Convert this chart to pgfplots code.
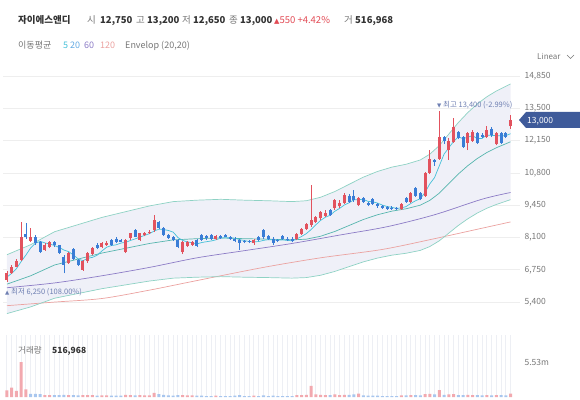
\documentclass[border=0pt]{standalone}
\usepackage{pgfplots}
\usepackage{pgfplotstable}
\pgfplotsset{compat=1.18}
\usepackage{fontspec}
\setmainfont{Noto Sans CJK KR}
\newfontfamily\dejavu{DejaVu Sans}
\definecolor{cup}{HTML}{E2525E}
\definecolor{cdn}{HTML}{3A7DD6}
\definecolor{vupc}{HTML}{F2A9AF}
\definecolor{vdnc}{HTML}{A8C6EE}
\definecolor{ma5}{HTML}{45C0D8}
\definecolor{ma20}{HTML}{55B5AE}
\definecolor{leg20}{HTML}{62A9E3}
\definecolor{ma60}{HTML}{8C7CC6}
\definecolor{ma120}{HTML}{EBA2A0}
\definecolor{env}{HTML}{8ED2C4}
\definecolor{envfill}{HTML}{EFF0F8}
\definecolor{txt}{HTML}{333333}
\definecolor{gtxt}{HTML}{777777}
\definecolor{tagc}{HTML}{3F5B9A}
\definecolor{mk}{HTML}{6E7FB2}
\definecolor{gridc}{HTML}{EEEEEE}
\definecolor{stripe}{HTML}{EDEFF4}
\definecolor{redt}{HTML}{E24B55}

\pgfplotstableread{
i O H L C
0 6320 6700 6250 6620
1 6620 6950 6580 6870
2 6870 7200 6850 7120
3 7160 8750 7100 8120
5 7950 8500 7900 8100
8 7580 7850 7550 7790
9 7700 7950 7650 7900
13 7050 7500 7000 7450
16 6750 7150 6700 7100
17 7100 7500 7050 7450
18 7400 7700 7350 7650
20 7700 7900 7650 7850
21 7800 7950 7750 7880
25 7500 8050 7450 8000
26 8080 8300 8000 8270
28 8000 8300 7950 8280
29 8200 8350 8150 8280
30 8280 8400 8250 8350
31 8400 9050 8350 8830
37 7500 7950 7400 7900
38 7750 7950 7700 7900
39 7800 7950 7750 7900
44 8050 8200 8000 8150
52 7850 8050 7800 8000
61 8050 8300 8000 8250
62 8250 8500 8200 8450
63 8450 8700 8400 8650
64 8620 10300 8550 8830
65 8750 9000 8700 8950
66 8900 9200 8850 9170
67 9000 9250 8950 9130
69 9330 9700 9250 9670
70 9400 9650 9350 9550
71 9540 9950 9500 9880
74 9450 9800 9400 9750
83 9300 9550 9250 9500
85 9600 10000 9550 9950
88 9850 10850 9800 10800
89 10800 11750 10750 11400
91 11400 13400 11350 12300
93 11750 12250 11350 12150
94 12100 13100 12050 12700
97 12050 12500 11750 12450
98 12150 12600 12100 12500
101 12300 12750 12250 12600
103 12000 12500 11950 12450
106 12750 13200 12650 13000
}\upc

\pgfplotstableread{
i O H L C
4 8250 8700 8050 8120
6 8100 8200 7800 7850
7 7900 7950 7450 7500
10 7900 7950 7700 7780
11 7790 7800 7400 7450
12 7300 7350 6600 6950
14 7600 7650 7150 7200
15 7150 7200 6900 6950
19 7780 7850 7600 7650
22 7990 8050 7750 7790
23 8050 8100 7850 7900
24 8000 8050 7900 7920
27 8410 8450 8100 8120
32 8750 8800 8450 8500
33 8500 8550 8150 8200
34 8200 8250 8050 8080
35 8100 8150 7950 8000
36 8000 8050 7650 7700
40 8000 8050 7700 7750
41 8200 8250 7950 8000
42 8150 8200 8000 8070
43 8200 8250 8000 8050
45 8150 8200 8050 8080
46 8200 8250 8100 8120
47 8100 8150 8000 8050
48 8050 8100 7900 7950
49 8000 8050 7580 7850
50 7950 8000 7850 7900
51 7950 8000 7850 7900
53 8100 8150 7950 8000
54 8400 8450 8050 8100
55 8150 8200 8000 8050
56 8050 8100 7800 7850
57 8000 8050 7900 7950
58 8150 8200 8000 8050
59 8050 8100 7950 8000
60 8050 8100 7900 7950
68 9250 9300 9000 9050
72 9850 9900 9550 9600
73 9850 10100 9600 9650
75 9750 9800 9550 9600
76 9550 9600 9400 9450
77 9700 9750 9450 9500
78 9500 9550 9350 9400
79 9400 9450 9300 9330
80 9380 9420 9250 9300
81 9350 9400 9250 9280
82 9320 9380 9230 9270
84 9750 9800 9550 9600
86 10150 10200 9800 9850
87 9950 10000 9650 9700
90 11350 11400 11100 11250
92 12300 12350 12000 12150
95 12500 12550 12200 12250
96 12300 12350 11850 11900
99 12450 12500 12000 12050
100 12400 12450 12250 12300
102 12650 12700 12300 12380
104 12450 12500 12000 12050
105 12450 12500 12250 12300
}\dnc

\pgfplotstableread{
i v
0 6450
1 6600
2 6800
3 7100
4 7370
5 7666
6 7862
7 7938
8 7872
9 7828
10 7764
11 7684
12 7574
13 7506
14 7366
15 7200
16 7130
17 7230
18 7270
19 7360
20 7540
21 7696
22 7764
23 7794
24 7868
25 7898
26 7976
27 8042
28 8118
29 8190
30 8260
31 8372
32 8448
33 8432
34 8392
35 8322
36 8096
37 7976
38 7916
39 7880
40 7830
41 7890
42 7924
43 7954
44 8004
45 8070
46 8094
47 8090
48 8070
49 8010
50 7974
51 7930
52 7920
53 7930
54 7980
55 8010
56 8000
57 7990
58 8000
59 7980
60 7960
61 8040
62 8140
63 8260
64 8426
65 8626
66 8810
67 8946
68 9026
69 9194
70 9314
71 9456
72 9550
73 9670
74 9686
75 9696
76 9610
77 9590
78 9540
79 9456
80 9396
81 9362
82 9316
83 9336
84 9390
85 9520
86 9634
87 9720
88 9980
89 10340
90 10600
91 11090
92 11580
93 11850
94 12110
95 12310
96 12230
97 12290
98 12360
99 12230
100 12240
101 12380
102 12366
103 12356
104 12356
105 12356
106 12436
}\mafive

\pgfplotstableread{
i m u l
0 6150 7380 4920
5 6500 7800 5200
10 6950 8340 5560
15 7200 8640 5760
20 7450 8940 5960
25 7650 9180 6120
30 7850 9420 6280
35 8000 9600 6400
40 8050 9660 6440
45 8080 9696 6464
50 8050 9660 6440
55 8030 9636 6424
60 8000 9600 6400
63 8030 9636 6424
66 8150 9780 6520
69 8350 10020 6680
72 8600 10320 6880
75 8850 10620 7080
78 9050 10860 7240
81 9200 11040 7360
84 9300 11160 7440
87 9450 11340 7560
89 9650 11580 7720
91 9950 11940 7960
93 10350 12420 8280
95 10750 12900 8600
97 11100 13320 8880
99 11400 13680 9120
101 11650 13980 9320
103 11850 14220 9480
106 12100 14520 9680
}\envt

% envelope band outline: upper edge forward, lower edge backward
\pgfplotstableread{
i v
0 7380
5 7800
10 8340
15 8640
20 8940
25 9180
30 9420
35 9600
40 9660
45 9696
50 9660
55 9636
60 9600
63 9636
66 9780
69 10020
72 10320
75 10620
78 10860
81 11040
84 11160
87 11340
89 11580
91 11940
93 12420
95 12900
97 13320
99 13680
101 13980
103 14220
106 14520
106 9680
103 9480
101 9320
99 9120
97 8880
95 8600
93 8280
91 7960
89 7720
87 7560
84 7440
81 7360
78 7240
75 7080
72 6880
69 6680
66 6520
63 6424
60 6400
55 6424
50 6440
45 6464
40 6440
35 6400
30 6280
25 6120
20 5960
15 5760
10 5560
5 5200
0 4920
}\envpoly

\pgfplotstableread{
i v
0 6000
10 6200
20 6500
30 6850
40 7250
50 7550
60 7850
70 8200
80 8550
90 9050
100 9700
106 9980
}\masixty

\pgfplotstableread{
i v
0 5250
10 5400
20 5550
30 5900
40 6300
54 6850
66 7250
79 7600
90 8050
98 8400
106 8750
}\maonetwenty

\pgfplotstableread{
i v
0 1.05
1 1.5
2 0.95
3 5.53
4 1.2
8 0.3
9 0.3
13 0.3
16 0.3
17 0.3
18 0.3
20 0.25
21 0.25
25 0.35
26 0.3
28 0.3
29 0.25
30 0.25
31 0.66
37 0.3
38 0.25
39 0.25
44 0.2
52 0.2
61 0.3
62 0.3
63 0.35
64 1.77
65 0.4
66 0.35
67 0.3
69 0.4
70 0.3
71 0.35
74 0.55
83 0.25
85 0.3
88 0.45
89 0.5
91 1.1
93 0.4
94 0.45
97 0.35
98 0.3
101 0.3
103 0.3
106 0.52
}\volup

\pgfplotstableread{
i v
5 0.5
6 0.5
7 0.45
10 0.3
11 0.3
12 0.35
14 0.3
15 0.25
19 0.2
22 0.2
23 0.2
24 0.2
27 0.25
32 0.45
33 0.35
34 0.25
35 0.2
36 0.3
40 0.2
41 0.2
42 0.15
43 0.15
45 0.15
46 0.15
47 0.15
48 0.2
49 0.3
50 0.15
51 0.15
53 0.15
54 0.25
55 0.15
56 0.2
57 0.15
58 0.15
59 0.15
60 0.15
68 0.3
72 0.35
73 0.4
75 0.25
76 0.2
77 0.2
78 0.2
79 0.15
80 0.15
81 0.15
82 0.15
84 0.25
86 0.3
87 0.25
90 0.4
92 0.35
95 0.3
96 0.3
99 0.3
100 0.25
102 0.25
104 0.3
105 0.25
}\voldn

\newcommand\candles[2]{%
  \pgfplotstablegetrowsof{#1}%
  \pgfmathtruncatemacro\nrows{\pgfplotsretval-1}%
  \pgfplotsforeachungrouped \r in {0,...,\nrows}{%
    \pgfplotstablegetelem{\r}{i}\of#1\let\kI\pgfplotsretval
    \pgfplotstablegetelem{\r}{O}\of#1\let\kO\pgfplotsretval
    \pgfplotstablegetelem{\r}{H}\of#1\let\kH\pgfplotsretval
    \pgfplotstablegetelem{\r}{L}\of#1\let\kL\pgfplotsretval
    \pgfplotstablegetelem{\r}{C}\of#1\let\kC\pgfplotsretval
    \edef\tmpplot{%
      \noexpand\addplot[#2, line width=0.8pt, forget plot] coordinates {(\kI,\kL) (\kI,\kH)};%
      \noexpand\addplot[#2, line width=3pt, forget plot] coordinates {(\kI,\kO) (\kI,\kC)};%
    }%
    \tmpplot
  }%
}

\begin{document}
\begin{tikzpicture}[x=1pt,y=1pt]

% ---------- price pane ----------
\begin{axis}[
  at={(3pt,69pt)}, anchor=south west,
  width=517pt, height=265pt, scale only axis,
  xmin=-0.84, xmax=108, ymin=4233, ymax=15310,
  axis line style={draw=none},
  xtick=\empty,
  ytick={5400,6750,8100,9450,10800,12150,13500,14850},
  scaled y ticks=false,
  ymajorgrids, grid style={draw=gridc, line width=0.6pt},
  major tick length=0pt,
  yticklabel pos=right,
  yticklabel style={font=\fontsize{8.5}{9}\selectfont, text=gtxt, anchor=west, xshift=1pt},
  /pgf/number format/1000 sep={,},
  /pgf/number format/assume math mode=true,
]
\addplot[fill=envfill, draw=none] table[x=i,y=v]{\envpoly} -- cycle;
\addplot[ma120, line width=0.7pt, smooth] table[x=i,y=v]{\maonetwenty};
\addplot[ma60, line width=0.7pt, smooth] table[x=i,y=v]{\masixty};
\addplot[env, line width=0.7pt] table[x=i,y=u]{\envt};
\addplot[env, line width=0.7pt] table[x=i,y=l]{\envt};
\addplot[ma20, line width=0.7pt] table[x=i,y=m]{\envt};
\addplot[ma5, line width=0.7pt] table[x=i,y=v]{\mafive};
\candles{\upc}{cup}
\candles{\dnc}{cdn}
\end{axis}

% ---------- volume pane ----------
\begin{axis}[
  at={(3pt,2pt)}, anchor=south west,
  width=517pt, height=62pt, scale only axis,
  xmin=-0.84, xmax=108, ymin=0, ymax=9.8,
  axis line style={draw=none},
  xtick={0,...,106}, xticklabels={},
  xmajorgrids, grid style={draw=stripe, line width=1pt},
  ytick={5.53}, yticklabels={5.53m},
  major tick length=0pt,
  yticklabel pos=right,
  yticklabel style={font=\fontsize{8.5}{9}\selectfont, text=gtxt, anchor=west, xshift=1pt},
]
\addplot[ybar, bar width=3pt, bar shift=0pt, fill=vupc, draw=none] table[x=i,y=v]{\volup};
\addplot[ybar, bar width=3pt, bar shift=0pt, fill=vdnc, draw=none] table[x=i,y=v]{\voldn};
\end{axis}

% ---------- header texts ----------
\begin{scope}[every node/.style={anchor=base west, inner sep=0pt, font=\fontsize{9.5}{11}\selectfont}]
\node[text=txt] at (18,375) {\bfseries 자이에스앤디};
\node[text=gtxt] at (87,375) {시};
\node[text=txt] at (100,375) {\bfseries 12,750};
\node[text=gtxt] at (136,375) {고};
\node[text=txt] at (147,375) {\bfseries 13,200};
\node[text=gtxt] at (182,375) {저};
\node[text=txt] at (193,375) {\bfseries 12,650};
\node[text=gtxt] at (229,375) {종};
\node[text=txt] at (240,375) {\bfseries 13,000};
\node[text=redt] at (274,375) {{\dejavu\fontsize{7}{8}\selectfont ▲}550 +4.42\%};
\node[text=gtxt] at (344,375) {거};
\node[text=txt] at (355,375) {\bfseries 516,968};
\end{scope}

\begin{scope}[every node/.style={anchor=base west, inner sep=0pt, font=\fontsize{9}{10}\selectfont}]
\node[text=gtxt] at (18,350) {이동평균};
\node[text=ma5] at (63,350) {5};
\node[text=leg20] at (70,350) {20};
\node[text=ma60] at (84,350) {60};
\node[text=ma120] at (100,350) {120};
\node[text=gtxt] at (125,350) {Envelop (20,20)};
\node[text=gtxt, font=\fontsize{8}{9}\selectfont] at (537,339) {Linear};
\end{scope}
\draw[gtxt, line width=0.6pt] (567,344) -- (570.5,340.5) -- (574,344);

% high / low markers
\node[anchor=base west, inner sep=0pt, text=mk, font=\fontsize{7.5}{8}\selectfont] at (437,291)
  {{\dejavu\fontsize{5.5}{6}\selectfont ▼} 최고 13,400 (-2.99\%)};
\node[anchor=base west, inner sep=0pt, text=mk, font=\fontsize{7.5}{8}\selectfont] at (5,105)
  {{\dejavu\fontsize{5.5}{6}\selectfont ▲} 최저 6,250 (108.00\%)};

% current price tag
\fill[tagc] (519,279) -- (526,287) -- (580,287) -- (580,271) -- (526,271) -- cycle;
\node[anchor=base west, inner sep=0pt, text=white, font=\fontsize{8.5}{9}\selectfont] at (527,275.5) {13,000};

% volume label
\node[anchor=base west, inner sep=0pt, text=gtxt, font=\fontsize{8.5}{9}\selectfont] at (18,46) {거래량};
\node[anchor=base west, inner sep=0pt, text=txt, font=\fontsize{8.5}{9}\selectfont] at (52,46) {\bfseries 516,968};

\pgfresetboundingbox
\path[use as bounding box] (0,0) rectangle (580,399);
\end{tikzpicture}
\end{document}
